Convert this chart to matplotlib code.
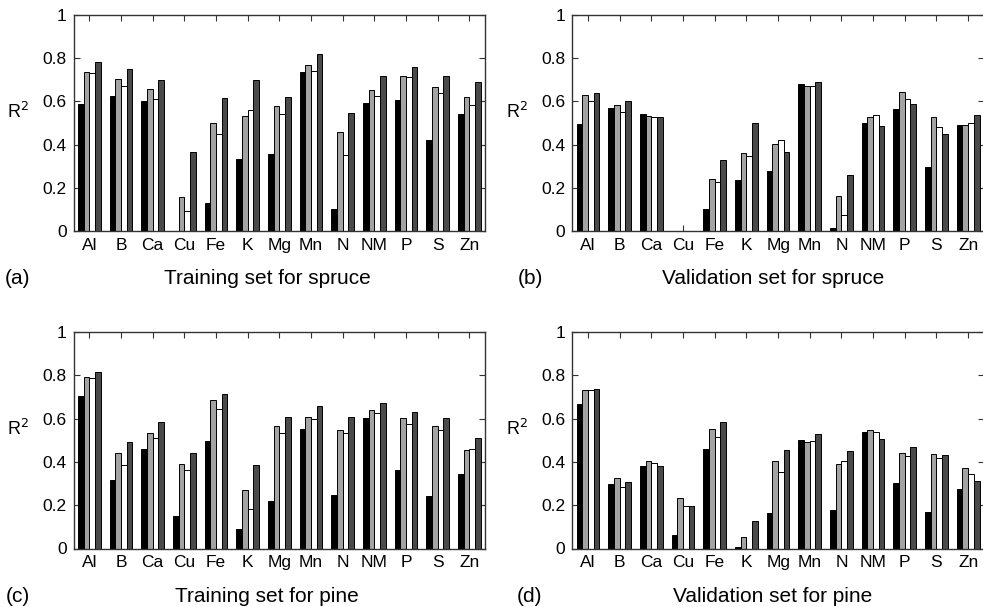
"""Grouped R^2 bars per nutrient for spruce and pine, training and validation sets."""

import matplotlib

matplotlib.use("Agg")
import matplotlib.pyplot as plt
import numpy as np

plt.rcParams["font.family"] = ["Liberation Sans", "DejaVu Sans"]

ELEMENTS = ["Al", "B", "Ca", "Cu", "Fe", "K", "Mg", "Mn", "N", "NM", "P", "S", "Zn"]

# columns: black, light gray, white, dark gray (one row per element)
TRAIN_SPRUCE = [
    [0.586, 0.737, 0.733, 0.784],
    [0.626, 0.703, 0.671, 0.751],
    [0.600, 0.657, 0.609, 0.699],
    [0.000, 0.159, 0.093, 0.365],
    [0.131, 0.499, 0.450, 0.617],
    [0.335, 0.532, 0.558, 0.699],
    [0.357, 0.577, 0.543, 0.621],
    [0.734, 0.768, 0.740, 0.818],
    [0.100, 0.459, 0.352, 0.544],
    [0.594, 0.654, 0.624, 0.716],
    [0.606, 0.719, 0.713, 0.759],
    [0.423, 0.665, 0.637, 0.717],
    [0.541, 0.621, 0.584, 0.688],
]
VALID_SPRUCE = [
    [0.496, 0.629, 0.601, 0.638],
    [0.570, 0.583, 0.549, 0.604],
    [0.541, 0.532, 0.527, 0.527],
    [0.000, 0.000, 0.000, 0.000],
    [0.102, 0.240, 0.227, 0.328],
    [0.235, 0.359, 0.346, 0.501],
    [0.277, 0.402, 0.422, 0.365],
    [0.680, 0.671, 0.669, 0.688],
    [0.012, 0.161, 0.073, 0.257],
    [0.498, 0.530, 0.536, 0.488],
    [0.563, 0.645, 0.612, 0.589],
    [0.297, 0.530, 0.481, 0.451],
    [0.490, 0.493, 0.502, 0.536],
]
TRAIN_PINE = [
    [0.705, 0.794, 0.786, 0.814],
    [0.317, 0.443, 0.385, 0.492],
    [0.460, 0.535, 0.511, 0.583],
    [0.149, 0.388, 0.362, 0.443],
    [0.497, 0.685, 0.646, 0.715],
    [0.088, 0.269, 0.183, 0.385],
    [0.220, 0.565, 0.534, 0.609],
    [0.554, 0.609, 0.600, 0.657],
    [0.249, 0.549, 0.534, 0.609],
    [0.605, 0.638, 0.628, 0.674],
    [0.363, 0.603, 0.574, 0.632],
    [0.243, 0.565, 0.548, 0.605],
    [0.345, 0.457, 0.458, 0.512],
]
VALID_PINE = [
    [0.666, 0.734, 0.731, 0.737],
    [0.297, 0.326, 0.283, 0.309],
    [0.383, 0.402, 0.395, 0.383],
    [0.062, 0.231, 0.194, 0.195],
    [0.460, 0.554, 0.515, 0.583],
    [0.006, 0.055, 0.000, 0.125],
    [0.165, 0.406, 0.354, 0.455],
    [0.503, 0.491, 0.498, 0.529],
    [0.178, 0.391, 0.403, 0.452],
    [0.540, 0.548, 0.538, 0.508],
    [0.303, 0.443, 0.429, 0.468],
    [0.169, 0.435, 0.420, 0.432],
    [0.277, 0.372, 0.345, 0.314],
]

PANELS = [
    ("(a)", "Training set for spruce", TRAIN_SPRUCE),
    ("(b)", "Validation set for spruce", VALID_SPRUCE),
    ("(c)", "Training set for pine", TRAIN_PINE),
    ("(d)", "Validation set for pine", VALID_PINE),
]

BAR_COLORS = ["#000000", "#a3a3a3", "#ffffff", "#4a4a4a"]

W, H = 983, 607
# axes boxes in pixels: left, top, width, height
BOXES = [(73.5, 15, 411.7, 216), (572.3, 15, 411.7, 216),
         (73.5, 332, 411.7, 216.5), (572.3, 332, 411.7, 216.5)]
LABEL_POS = [(18, 279, 267), (530, 279, 773), (18, 596, 267), (530, 596, 773)]


def draw_panel(ax, values):
    vals = np.asarray(values)
    x = np.arange(1, len(ELEMENTS) + 1)
    bw = 0.179
    for j, color in enumerate(BAR_COLORS):
        ax.bar(x + (j - 1.5) * bw, vals[:, j], width=bw, color=color,
               edgecolor="black", linewidth=0.7, zorder=2)
    ax.set_xlim(0.5, 13.5)
    ax.set_ylim(0, 1)
    ax.set_xticks(x)
    ax.set_xticklabels(ELEMENTS)
    ax.set_yticks([0, 0.2, 0.4, 0.6, 0.8, 1])
    ax.set_yticklabels(["0", "0.2", "0.4", "0.6", "0.8", "1"])
    ax.tick_params(direction="in", length=4, width=0.8, top=True, right=True,
                   labelsize=12.5, pad=5, color="#333333")
    for sp in ax.spines.values():
        sp.set_linewidth(1.0)
        sp.set_color("#333333")
    ax.set_ylabel("R$^2$", rotation=0, fontsize=13)
    ax.yaxis.set_label_coords(-0.135, 0.505)


def main():
    fig = plt.figure(figsize=(W / 100, H / 100), dpi=100)
    for (tag, caption, values), (l, t, w, h), (tx, ty, cx) in zip(PANELS, BOXES, LABEL_POS):
        ax = fig.add_axes([l / W, 1 - (t + h) / H, w / W, h / H])
        draw_panel(ax, values)
        fig.text(tx / W, 1 - ty / H, tag, fontsize=15, ha="center", va="center")
        fig.text(cx / W, 1 - ty / H, caption, fontsize=15, ha="center", va="center")
    fig.savefig("out.png", dpi=100)
    plt.close(fig)


if __name__ == "__main__":
    main()
